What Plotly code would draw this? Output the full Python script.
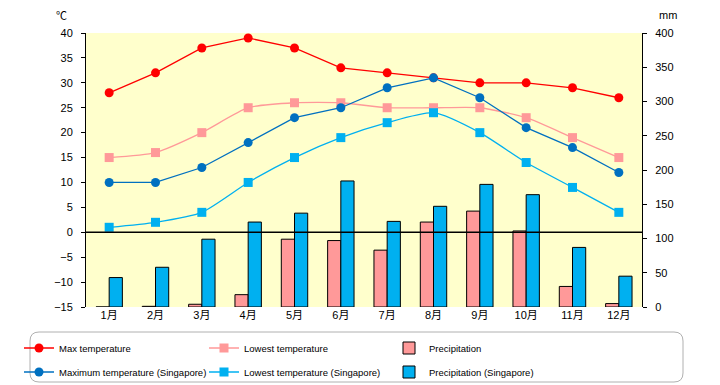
import plotly.graph_objects as go

months = ["1月", "2月", "3月", "4月", "5月", "6月", "7月", "8月", "9月", "10月", "11月", "12月"]
max_temp = [28, 32, 37, 39, 37, 33, 32, 31, 30, 30, 29, 27]
low_temp = [15, 16, 20, 25, 26, 26, 25, 25, 25, 23, 19, 15]
precip = [0, 1, 4, 18, 99, 97, 83, 124, 140, 111, 30, 5]
max_sg = [10, 10, 13, 18, 23, 25, 29, 31, 27, 21, 17, 12]
low_sg = [1, 2, 4, 10, 15, 19, 22, 24, 20, 14, 9, 4]
precip_sg = [43, 58, 99, 124, 137, 184, 125, 147, 179, 164, 87, 45]

temp_ticks = list(range(-15, 41, 5))
mm_ticks = list(range(0, 401, 50))

FONT = "Liberation Sans, Noto Sans CJK JP, DejaVu Sans, sans-serif"

# the page body adds an 8px offset; figure is sized to fit the 720x385 window
OFF = 8
W, H = 720 - OFF, 385 - OFF
PL, PR, PT, PB = 86, 642, 33, 307  # plot area in window pixels

fig = go.Figure()
fig.add_trace(go.Scatter(x=months, y=max_temp, name="Max temperature", yaxis="y2", legend="legend",
                         mode="lines+markers", line=dict(color="#FF0000", width=1.3),
                         marker=dict(symbol="circle", size=9, color="#FF0000")))
fig.add_trace(go.Scatter(x=months, y=low_temp, name="Lowest temperature", yaxis="y2", legend="legend",
                         mode="lines+markers", line=dict(color="#FF9999", width=1.3, shape="spline", smoothing=0.6),
                         marker=dict(symbol="square", size=9, color="#FF9999")))
fig.add_trace(go.Bar(x=months, y=precip, name="Precipitation", yaxis="y", legend="legend",
                     marker=dict(color="#FF9999", line=dict(color="#000000", width=1))))
fig.add_trace(go.Scatter(x=months, y=max_sg, name="Maximum temperature (Singapore)", yaxis="y2", legend="legend2",
                         mode="lines+markers", line=dict(color="#0070C0", width=1.3),
                         marker=dict(symbol="circle", size=9, color="#0070C0")))
fig.add_trace(go.Scatter(x=months, y=low_sg, name="Lowest temperature (Singapore)", yaxis="y2", legend="legend2",
                         mode="lines+markers", line=dict(color="#00B0F0", width=1.3, shape="spline", smoothing=0.6),
                         marker=dict(symbol="square", size=9, color="#00B0F0")))
fig.add_trace(go.Bar(x=months, y=precip_sg, name="Precipitation (Singapore)", yaxis="y", legend="legend2",
                     marker=dict(color="#00B0F0", line=dict(color="#000000", width=1))))


def px_x(p):
    return (p - PL) / float(PR - PL)


def px_y(p):
    return (PB - p) / float(PB - PT)


def cx(p):
    return (p - OFF) / float(W)


def cy(p):
    return 1 - (p - OFF) / float(H)


L, R, T, B, r = 30, 683, 332, 382, 9
path = (f"M {px_x(L+r)},{px_y(T)} L {px_x(R-r)},{px_y(T)} Q {px_x(R)},{px_y(T)} {px_x(R)},{px_y(T+r)} "
        f"L {px_x(R)},{px_y(B-r)} Q {px_x(R)},{px_y(B)} {px_x(R-r)},{px_y(B)} "
        f"L {px_x(L+r)},{px_y(B)} Q {px_x(L)},{px_y(B)} {px_x(L)},{px_y(B-r)} "
        f"L {px_x(L)},{px_y(T+r)} Q {px_x(L)},{px_y(T)} {px_x(L+r)},{px_y(T)} Z")

leg_common = dict(orientation="h", xref="container", yref="container", x=cx(19),
                  xanchor="left", yanchor="middle", entrywidth=140, entrywidthmode="pixels",
                  traceorder="normal", font=dict(size=9.5, family=FONT), bgcolor="rgba(0,0,0,0)",
                  itemwidth=30)

fig.update_layout(
    template="none",
    width=W, height=H,
    margin=dict(l=PL - OFF, r=W - (PR - OFF), t=PT - OFF, b=H - (PB - OFF), autoexpand=False),
    paper_bgcolor="#FFFFFF",
    plot_bgcolor="#FFFFCC",
    font=dict(family=FONT, size=11, color="#000000"),
    barmode="group", bargap=0.43, bargroupgap=0,
    xaxis=dict(showgrid=False, ticks="", showline=False, zeroline=False, automargin=False,
               range=[-0.5, len(months) - 0.5], tickfont=dict(size=11)),
    yaxis=dict(side="right", range=[0, 400], tickvals=mm_ticks, showgrid=False, zeroline=False,
               showline=True, linecolor="#000000", linewidth=1, ticks="outside", ticklen=4,
               tickcolor="#000000", ticklabelstandoff=6, automargin=False),
    yaxis2=dict(side="left", overlaying="y", range=[-15, 40], tickvals=temp_ticks, showgrid=False,
                zeroline=False, showline=True, linecolor="#000000", linewidth=1, ticks="outside",
                ticklen=4, tickcolor="#000000", ticklabelstandoff=6, automargin=False),
    showlegend=True,
    legend=dict(leg_common, y=cy(348)),
    legend2=dict(leg_common, y=cy(372)),
    shapes=[
        dict(type="line", xref="paper", yref="y2", x0=0, x1=1, y0=0, y1=0,
             line=dict(color="#000000", width=1.3), layer="above"),
        dict(type="path", xref="paper", yref="paper", path=path,
             line=dict(color="#B0B0B0", width=1), fillcolor="rgba(0,0,0,0)", layer="above"),
    ],
    annotations=[
        dict(text="℃", xref="paper", yref="paper", x=px_x(61), y=px_y(16), showarrow=False,
             xanchor="center", yanchor="middle", font=dict(size=11)),
        dict(text="mm", xref="paper", yref="paper", x=px_x(668), y=px_y(15), showarrow=False,
             xanchor="center", yanchor="middle", font=dict(size=11)),
    ],
)

fig.write_html("out.html")
